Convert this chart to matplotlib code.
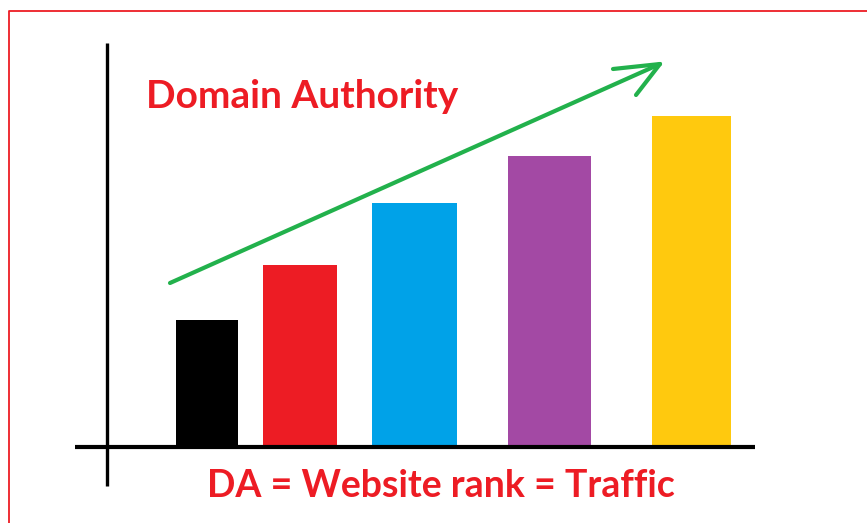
import matplotlib
matplotlib.use("Agg")
import matplotlib.pyplot as plt

# bar data (height above the baseline, in picture pixels)
bar_colors = ['#000000', '#ED1C24', '#00A2E8', '#A349A4', '#FFC90E']
bar_values = [126, 181, 243, 290, 330]
bar_lefts = [176, 263, 372, 508, 652]
bar_widths = [62, 74, 85, 83, 79]

title_text = 'Domain Authority'
bottom_text = 'DA = Website rank = Traffic'

RED = '#ED1C24'
GREEN = '#22B14C'
BASE = 446

fig = plt.figure(figsize=(8.67, 5.23), dpi=100)
ax = fig.add_axes([0, 0, 1, 1])
ax.set_xlim(0, 867)
ax.set_ylim(523, 0)
ax.axis('off')

# red frame around the picture
ax.plot([8.5, 8.5, 867], [523, 10.5, 10.5], color=RED, lw=1.3, solid_capstyle='butt')

# bars
for left, w, v, c in zip(bar_lefts, bar_widths, bar_values, bar_colors):
    ax.bar(left, v, width=w, bottom=BASE - v, align='edge', color=c, zorder=2)

# axes lines
ax.plot([107, 107], [43, 486], color='black', lw=2.4, solid_capstyle='butt', zorder=3)
ax.plot([75, 755], [446.5, 446.5], color='black', lw=3.0, solid_capstyle='butt', zorder=3)

# green trend arrow
ax.plot([170, 660], [283, 64], color=GREEN, lw=3.0, solid_capstyle='round', zorder=4)
ax.plot([613, 660, 636], [69, 64, 95], color=GREEN, lw=3.0,
        solid_capstyle='round', solid_joinstyle='round', zorder=4)

ax.text(302, 96, title_text, color=RED, fontsize=28, fontweight='bold',
        family='Lato', ha='center', va='center')
ax.text(441, 486, bottom_text, color=RED, fontsize=27, fontweight='bold',
        family='Lato', ha='center', va='center')

fig.savefig('out.png', dpi=100)
